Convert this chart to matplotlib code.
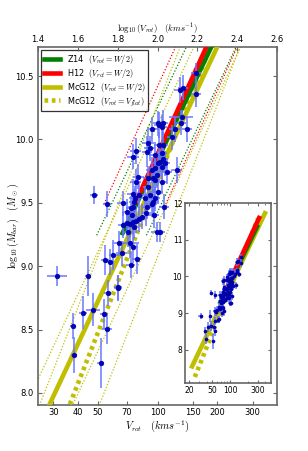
import numpy as np
import matplotlib
matplotlib.use("Agg")
import matplotlib.pyplot as plt
from matplotlib.ticker import FixedLocator, FixedFormatter, NullLocator

plt.rcParams['mathtext.fontset'] = 'cm'
plt.rcParams['font.family'] = ['DejaVu Sans']

# ---- data: rotation velocity (km/s) and log10 baryonic mass ----
v_rot = [31.4, 37.5, 38.1, 42.4, 47.6, 51.9, 53.9, 55.8, 56.2, 63.4,
         44.8, 48.0, 55.6, 54.5, 57.7, 60.0, 64.3, 66.1, 63.6, 67.3,
         70.0, 72.8, 75.1, 78.0, 81.0, 71.4, 76.2, 99.1, 102.9, 72.8,
         75.6, 78.6, 73.3, 66.9, 75.1, 76.2, 93.5, 107.8, 70.0, 73.3,
         74.2, 83.3, 87.5, 96.0, 101.7, 106.9, 105.0, 94.2, 122.4, 131.2,
         118.7, 77.7, 88.3, 91.7, 105.0, 106.9, 102.9, 100.9, 109.0, 105.0,
         93.5, 97.1, 99.1, 95.3, 105.0, 80.1, 77.7, 89.9, 75.6, 77.1,
         80.7, 86.5, 91.7, 124.9, 97.1, 75.6, 156.1, 129.7, 134.8, 156.1,
         132.3, 100.9, 140.2, 89.9, 102.1, 106.9, 111.2, 89.9, 97.1, 100.9,
         97.1, 88.3, 95.3]
log_mbar = [8.923, 8.528, 8.300, 8.631, 8.655, 8.237, 8.623, 8.505, 8.789, 8.828,
            8.923, 9.561, 9.491, 9.049, 9.033, 9.088, 9.181, 9.102, 8.834, 9.325,
            9.338, 9.330, 9.351, 9.359, 9.370, 9.272, 9.312, 9.272, 9.267, 9.181,
            9.149, 9.057, 9.009, 9.496, 9.469, 9.509, 9.491, 9.469, 9.430, 9.457,
            9.404, 9.390, 9.417, 9.404, 10.114, 10.132, 10.095, 10.080, 10.080, 10.132,
            10.017, 9.908, 9.903, 9.930, 9.890, 9.843, 9.824, 9.811, 9.811, 9.785,
            9.759, 9.772, 9.719, 9.693, 9.666, 9.706, 9.666, 9.627, 9.569, 9.535,
            9.561, 9.535, 9.561, 9.759, 9.877, 9.864, 10.526, 10.390, 10.408, 10.358,
            10.174, 10.127, 10.080, 9.974, 9.956, 9.956, 9.745, 9.693, 9.680, 9.588,
            9.535, 9.469, 9.509]
v_err = [3.6, 1.3, 1.5, 2.0, 3.9, 2.0, 2.5, 3.0, 2.5, 3.0,
         1.5, 2.0, 2.5, 2.5, 3.0, 3.0, 3.5, 4.0, 3.0, 4.0,
         4.0, 4.0, 4.5, 4.0, 4.5, 4.0, 5.0, 6.0, 6.0, 8.0,
         4.0, 4.0, 4.0, 4.0, 4.0, 4.0, 6.0, 6.0, 4.0, 4.0,
         5.0, 5.0, 5.0, 6.0, 6.0, 6.0, 6.0, 6.0, 8.0, 8.0,
         7.0, 5.0, 5.0, 6.0, 6.0, 6.0, 6.0, 6.0, 7.0, 6.0,
         6.0, 6.0, 6.0, 6.0, 6.0, 5.0, 5.0, 5.0, 5.0, 5.0,
         5.0, 5.0, 6.0, 8.0, 6.0, 5.0, 9.0, 8.0, 8.0, 9.0,
         18.0, 6.0, 8.0, 6.0, 6.0, 6.0, 7.0, 5.0, 6.0, 6.0,
         6.0, 5.0, 6.0]
m_err = [0.08, 0.10, 0.14, 0.13, 0.13, 0.20, 0.12, 0.12, 0.10, 0.10,
         0.16, 0.07, 0.10, 0.12, 0.10, 0.12, 0.10, 0.10, 0.10, 0.10,
         0.10, 0.10, 0.10, 0.10, 0.10, 0.12, 0.10, 0.08, 0.08, 0.12,
         0.12, 0.12, 0.10, 0.10, 0.10, 0.10, 0.10, 0.10, 0.10, 0.10,
         0.10, 0.10, 0.10, 0.10, 0.10, 0.10, 0.10, 0.10, 0.10, 0.10,
         0.10, 0.10, 0.12, 0.10, 0.10, 0.10, 0.10, 0.10, 0.10, 0.10,
         0.10, 0.10, 0.10, 0.10, 0.10, 0.10, 0.10, 0.12, 0.12, 0.10,
         0.10, 0.10, 0.10, 0.10, 0.10, 0.10, 0.08, 0.10, 0.10, 0.10,
         0.06, 0.10, 0.10, 0.10, 0.10, 0.10, 0.10, 0.10, 0.10, 0.10,
         0.10, 0.10, 0.10]

# ---- fitted relations: endpoints (V in km/s, log M) ----
z14_v, z14_m = [66.0, 300.0], [9.244, 11.413]
h12_v, h12_m = [77.0, 325.0], [9.491, 11.648]
mcg_w_v, mcg_w_m = [21.6, 410.0], [7.496, 11.778]
mcg_f_v, mcg_f_m = [25.0, 300.0], [7.264, 11.580]
# scatter envelopes (main panel only)
z14_lo_v, z14_hi_v = [49.5, 225.0], [88.0, 400.0]
h12_lo_v, h12_hi_v = [53.9, 227.5], [110.0, 464.0]
mcg_w_lo_v, mcg_w_hi_v = [16.5, 313.0], [28.3, 537.0]
mcg_f_lo_v, mcg_f_hi_v = [17.7, 212.0], [35.3, 424.0]

labels = [u'Z14  $(V_{rot}=W/2)$', u'H12  $(V_{rot}=W/2)$',
          u'McG12  $(V_{rot}=W/2)$', u'McG12  $(V_{rot}=V_{flat})$']

green, red, yel = '#008000', '#ff0000', '#bfbf00'
spine_c = '#666666'
thick = 3.3


def draw_relations(a):
    a.plot(mcg_w_v, mcg_w_m, color=yel, lw=thick, solid_capstyle='butt', zorder=3)
    a.plot(mcg_f_v, mcg_f_m, color=yel, lw=thick, ls=(0, (0.8, 0.8)), zorder=3)
    a.plot(z14_v, z14_m, color=green, lw=thick, solid_capstyle='butt', zorder=3)
    a.plot(h12_v, h12_m, color=red, lw=thick, solid_capstyle='butt', zorder=3)


def draw_data(a, ms):
    a.errorbar(v_rot, log_mbar, xerr=v_err, yerr=m_err, fmt='o', ms=ms,
               mfc='#0000cc', mec='#000088', mew=0.4,
               ecolor='#6a78ff', elinewidth=1.1, capsize=0, alpha=1.0, zorder=4)


fig = plt.figure(figsize=(3.08, 4.51), dpi=100)
ax = fig.add_axes([38 / 308, 1 - 405 / 451, 239 / 308, 358 / 451])
ax.set_xscale('log')

# thin dotted envelopes
for vv, mm, c in [(z14_lo_v, z14_m, green), (z14_hi_v, z14_m, green),
                  (h12_lo_v, h12_m, red), (h12_hi_v, h12_m, red),
                  (mcg_w_lo_v, mcg_w_m, yel), (mcg_w_hi_v, mcg_w_m, yel),
                  (mcg_f_lo_v, mcg_f_m, yel), (mcg_f_hi_v, mcg_f_m, yel)]:
    ax.plot(vv, mm, color=c, lw=0.9, ls=(0, (1, 1.5)), zorder=2)

draw_relations(ax)
h = [plt.Line2D([], [], color=green, lw=thick),
     plt.Line2D([], [], color=red, lw=thick),
     plt.Line2D([], [], color=yel, lw=thick),
     plt.Line2D([], [], color=yel, lw=thick, ls=(0, (0.8, 0.8)))]
draw_data(ax, 3.4)

ax.set_xlim(10 ** 1.4, 10 ** 2.6)
ax.set_ylim(7.905, 10.729)
xt = [30, 40, 50, 70, 100, 150, 200, 300]
ax.xaxis.set_major_locator(FixedLocator(xt))
ax.xaxis.set_major_formatter(FixedFormatter([str(t) for t in xt]))
ax.xaxis.set_minor_locator(NullLocator())
ax.set_yticks([8.0, 8.5, 9.0, 9.5, 10.0, 10.5])
ax.set_yticklabels(['8.0', '8.5', '9.0', '9.5', '10.0', '10.5'])
ax.tick_params(axis='both', direction='in', labelsize=6, length=3,
               right=True, color=spine_c, pad=3)
ax.tick_params(axis='x', pad=2.5)
for s in ax.spines.values():
    s.set_color(spine_c)
    s.set_linewidth(1.2)
ax.set_xlabel(r'$V_{rot}\quad(kms^{-1})$', fontsize=7.5, labelpad=0.5)
ax.set_ylabel(r'$\log_{10}(M_{bar})\quad(M_\odot)$', fontsize=7.2)
ax.yaxis.set_label_coords(-0.072, 0.5)

leg = ax.legend(h, labels, loc='upper left', fontsize=5.9, frameon=True,
                fancybox=False, edgecolor='black', handlelength=2.0,
                borderpad=0.35, labelspacing=0.12, handletextpad=0.8,
                borderaxespad=0.35)
leg.get_frame().set_linewidth(0.9)
leg.set_zorder(6)

ax2 = ax.twiny()
ax2.set_xlim(1.4, 2.6)
ax2.set_xticks([1.4, 1.6, 1.8, 2.0, 2.2, 2.4, 2.6])
ax2.set_xticklabels(['1.4', '1.6', '1.8', '2.0', '2.2', '2.4', '2.6'])
ax2.tick_params(axis='x', direction='in', labelsize=6, length=3, color=spine_c, pad=2)
for s in ax2.spines.values():
    s.set_visible(False)
ax2.set_xlabel(r'$\log_{10}(V_{rot})\quad(kms^{-1})$', fontsize=6.3, labelpad=2.5)

# ---- inset ----
ins = fig.add_axes([185 / 308, 1 - 383 / 451, 86 / 308, 180 / 451])
ins.set_xscale('log')
draw_relations(ins)
draw_data(ins, 2.2)
ins.set_xlim(17, 500)
ins.set_ylim(7.1, 12)
it = [20, 50, 100, 300]
ins.xaxis.set_major_locator(FixedLocator(it))
ins.xaxis.set_major_formatter(FixedFormatter([str(t) for t in it]))
ins.set_yticks([8, 9, 10, 11, 12])
ins.tick_params(axis='both', which='both', direction='in', labelsize=5.5,
                top=True, right=True, color=spine_c, pad=2)
ins.tick_params(which='major', length=2.5)
ins.tick_params(which='minor', length=1.5)
ins.xaxis.set_minor_formatter(FixedFormatter([]))
for s in ins.spines.values():
    s.set_color(spine_c)
    s.set_linewidth(1.2)

fig.savefig('out.png', dpi=100)
